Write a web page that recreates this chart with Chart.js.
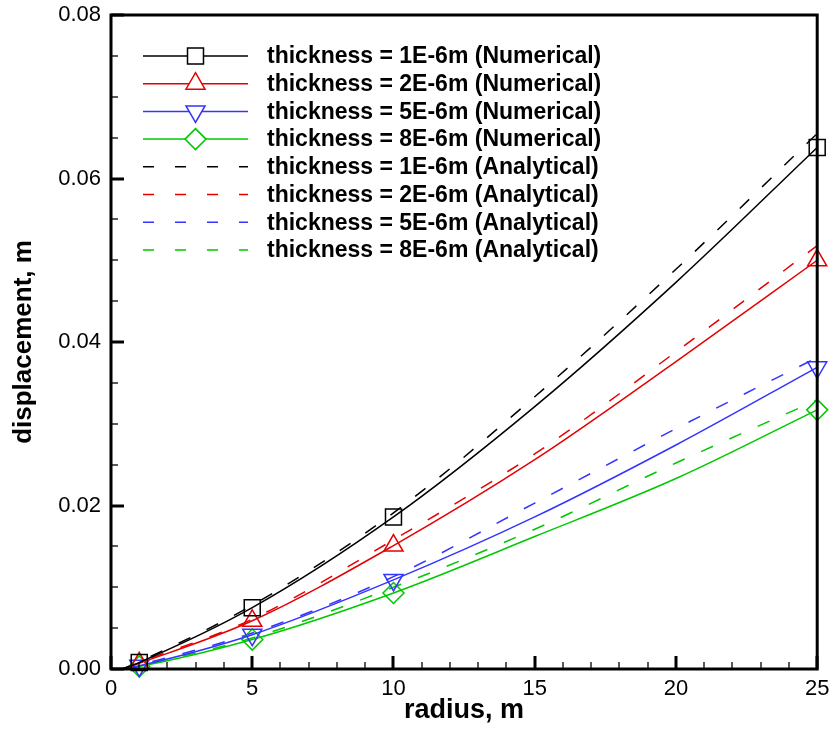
<!DOCTYPE html>
<html>
<head>
<meta charset="utf-8">
<script src="https://cdn.jsdelivr.net/npm/chart.js@4.4.1/dist/chart.umd.min.js"></script>
<style>
  html, body { margin: 0; padding: 0; background: #fff; }
  #wrap { width: 830px; height: 729px; }
</style>
</head>
<body>
<div id="wrap"><canvas id="myChart" width="830" height="729"></canvas></div>
<script>
const radius = [0.4, 1, 5, 10, 15, 20, 25];
// radii that carry a marker on the numerical curves
const markerRadius = [1, 5, 10, 25];

// displacement (m), numerical
const num1 = [0, 0.0008, 0.0075, 0.0186, 0.0321, 0.0473, 0.0638];
const num2 = [0, 0.0007, 0.0059, 0.0151, 0.0256, 0.0376, 0.0500];
const num5 = [0, 0.0004, 0.0042, 0.0109, 0.0186, 0.0274, 0.0369];
const num8 = [0, 0.0003, 0.0036, 0.0093, 0.0162, 0.0233, 0.0317];

// displacement (m), analytical
const ana1 = [0, 0.0009, 0.0078, 0.0191, 0.0333, 0.0489, 0.0655];
const ana2 = [0, 0.0008, 0.0061, 0.0158, 0.0263, 0.0388, 0.0518];
const ana5 = [0, 0.0005, 0.0044, 0.0113, 0.0203, 0.0294, 0.0381];
const ana8 = [0, 0.0004, 0.0038, 0.0100, 0.0171, 0.0252, 0.0329];

const labels = [
  'thickness = 1E-6m (Numerical)',
  'thickness = 2E-6m (Numerical)',
  'thickness = 5E-6m (Numerical)',
  'thickness = 8E-6m (Numerical)',
  'thickness = 1E-6m (Analytical)',
  'thickness = 2E-6m (Analytical)',
  'thickness = 5E-6m (Analytical)',
  'thickness = 8E-6m (Analytical)'
];

const FONT = "'Liberation Sans', Arial, sans-serif";
const colors = ['#000000', '#e60000', '#3434ff', '#00c800'];
const markers = [
  {style: 'rect', radius: 11.3, rotation: 0},
  {style: 'triangle', radius: 11, rotation: 0},
  {style: 'triangle', radius: 11, rotation: 180},
  {style: 'rectRot', radius: 10.5, rotation: 0}
];

function toPoints(ys) {
  return radius.map((x, i) => ({x: x, y: ys[i]}));
}

const numSeries = [num1, num2, num5, num8];
const anaSeries = [ana1, ana2, ana5, ana8];

const datasets = [];
numSeries.forEach((ys, i) => {
  datasets.push({
    label: labels[i],
    data: toPoints(ys),
    borderColor: colors[i],
    backgroundColor: 'rgba(0,0,0,0)',
    borderWidth: 1.5,
    pointStyle: markers[i].style,
    pointRotation: markers[i].rotation,
    pointRadius: radius.map(x => markerRadius.includes(x) ? markers[i].radius : 0),
    pointBorderWidth: 1.5,
    pointBorderColor: colors[i],
    pointBackgroundColor: 'rgba(0,0,0,0)',
    cubicInterpolationMode: 'monotone',
    tension: 0.4,
    clip: false
  });
});
anaSeries.forEach((ys, i) => {
  datasets.push({
    label: labels[i + 4],
    data: toPoints(ys),
    borderColor: colors[i],
    borderWidth: 1.5,
    borderDash: [13, 18],
    pointRadius: 0,
    cubicInterpolationMode: 'monotone',
    tension: 0.4,
    clip: false
  });
});

// frame with inward major/minor ticks
const frameTicks = {
  id: 'frameTicks',
  afterDatasetsDraw(chart) {
    const ctx = chart.ctx;
    const a = chart.chartArea;
    const xs = chart.scales.x, ys = chart.scales.y;
    ctx.save();
    ctx.strokeStyle = '#000';
    ctx.lineCap = 'butt';
    // x ticks
    for (let i = 0; i <= 25; i++) {
      const px = Math.round(xs.getPixelForValue(i));
      const major = i % 5 === 0;
      ctx.lineWidth = major ? 3 : 1.3;
      ctx.beginPath();
      ctx.moveTo(px, a.bottom);
      ctx.lineTo(px, a.bottom - (major ? 13 : 7));
      ctx.stroke();
    }
    // y ticks
    for (let i = 0; i <= 16; i++) {
      const py = Math.round(ys.getPixelForValue(i * 0.005));
      const major = i % 4 === 0;
      ctx.lineWidth = major ? 3 : 1.3;
      ctx.beginPath();
      ctx.moveTo(a.left, py);
      ctx.lineTo(a.left + (major ? 13 : 7), py);
      ctx.stroke();
    }
    ctx.lineWidth = 3;
    ctx.strokeRect(a.left, a.top, a.right - a.left, a.bottom - a.top);
    ctx.restore();
  }
};

// legend drawn inside the plot, top left
const insideLegend = {
  id: 'insideLegend',
  afterDraw(chart) {
    const ctx = chart.ctx;
    const x0 = 143, x1 = 248, tx = 267;
    ctx.save();
    chart.data.datasets.forEach((ds, i) => {
      const y = 56 + i * 27.7;
      ctx.strokeStyle = ds.borderColor;
      ctx.lineWidth = 1.5;
      ctx.setLineDash(ds.borderDash ? [11, 21] : []);
      ctx.beginPath();
      ctx.moveTo(x0, y);
      ctx.lineTo(x1, y);
      ctx.stroke();
      ctx.setLineDash([]);
      if (i < 4) {
        ctx.fillStyle = '#fff';
        Chart.helpers.drawPoint(ctx, {
          pointStyle: markers[i].style,
          radius: markers[i].radius,
          rotation: markers[i].rotation,
          borderWidth: 1.5
        }, (x0 + x1) / 2, y);
      }
      ctx.fillStyle = '#000';
      ctx.font = 'bold 23px ' + FONT;
      ctx.textBaseline = 'middle';
      ctx.textAlign = 'left';
      ctx.fillText(ds.label, tx, y + 1);
    });
    ctx.restore();
  }
};

const ctx = document.getElementById('myChart');
new Chart(ctx, {
  type: 'line',
  data: { datasets: datasets },
  options: {
    responsive: false,
    animation: false,
    devicePixelRatio: 1,
    layout: { padding: { left: 0, top: 15, right: 12, bottom: 0 } },
    plugins: {
      legend: { display: false },
      tooltip: { enabled: false }
    },
    scales: {
      x: {
        type: 'linear',
        min: 0,
        max: 25,
        afterFit: (scale) => {
          scale.height = 60;
          scale.paddingLeft = 0;
          scale.paddingRight = 0;
        },
        ticks: {
          stepSize: 5,
          color: '#000',
          padding: 7,
          maxRotation: 0,
          font: { family: FONT, size: 22 }
        },
        grid: { display: false, drawTicks: false },
        border: { display: false },
        title: {
          display: true,
          text: 'radius, m',
          color: '#000',
          font: { family: FONT, size: 27, weight: 'bold' },
          padding: { top: 0, bottom: 2 }
        }
      },
      y: {
        type: 'linear',
        min: 0,
        max: 0.08,
        afterFit: (scale) => {
          scale.width = 111;
          scale.paddingTop = 0;
          scale.paddingBottom = 0;
        },
        ticks: {
          stepSize: 0.02,
          color: '#000',
          padding: 10,
          font: { family: FONT, size: 22 },
          callback: (v) => v.toFixed(2)
        },
        grid: { display: false, drawTicks: false },
        border: { display: false },
        title: {
          display: true,
          text: 'displacement, m',
          color: '#000',
          font: { family: FONT, size: 26, weight: 'bold' },
          padding: { top: 8, bottom: 0 }
        }
      }
    }
  },
  plugins: [frameTicks, insideLegend]
});
</script>
</body>
</html>
